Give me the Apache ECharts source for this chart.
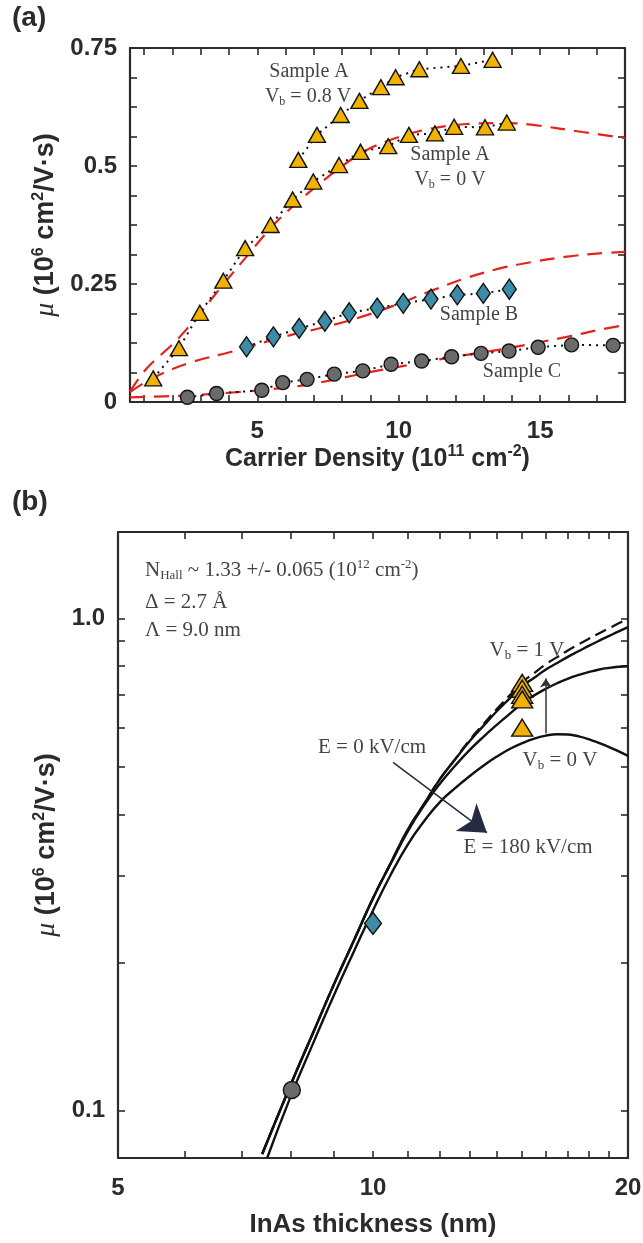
<!DOCTYPE html>
<html>
<head>
<meta charset="utf-8">
<script src="https://cdn.jsdelivr.net/npm/echarts@6/dist/echarts.min.js"></script>
<style>
html, body { margin: 0; padding: 0; background: #fff; }
#main { width: 643px; height: 1243px; }
</style>
</head>
<body>
<div id="main"></div>
<script>
// ---- panel (a): mobility vs carrier density ----
var aXTicks = [1, 2, 3, 4, 5, 6, 7, 8, 9, 10, 11, 12, 13, 14, 15, 16, 17];
var aXLabels = [5, 10, 15];
var aYTicks = [0.0625, 0.125, 0.1875, 0.25, 0.3125, 0.375, 0.4375, 0.5, 0.5625, 0.625, 0.6875];
var aYLabels = [0, 0.25, 0.5, 0.75];

var sampleA08 = [[6.45, 0.513], [7.11, 0.566], [7.95, 0.608], [8.61, 0.638], [9.37, 0.667],
  [9.89, 0.688], [10.73, 0.705], [12.20, 0.712], [13.32, 0.725]];
var sampleA0 = [[1.32, 0.050], [2.23, 0.114], [2.97, 0.189], [3.80, 0.257], [4.57, 0.326],
  [5.47, 0.375], [6.25, 0.429], [6.98, 0.467], [7.89, 0.502], [8.65, 0.530], [9.63, 0.542],
  [10.36, 0.566], [11.28, 0.569], [11.96, 0.583], [13.05, 0.582], [13.82, 0.592]];
var sampleB = [[4.62, 0.117], [5.57, 0.138], [6.48, 0.156], [7.39, 0.171], [8.25, 0.189],
  [9.24, 0.199], [10.16, 0.209], [11.14, 0.218], [12.07, 0.227], [12.99, 0.230], [13.91, 0.239]];
var sampleC = [[2.53, 0.010], [3.56, 0.018], [5.16, 0.025], [5.90, 0.041], [6.76, 0.048],
  [7.72, 0.059], [8.73, 0.066], [9.73, 0.080], [10.81, 0.087], [11.87, 0.096], [12.91, 0.103],
  [13.90, 0.108], [14.93, 0.116], [16.11, 0.121], [17.58, 0.120]];

var fitA = [[0.5, 0.022], [1.09, 0.071], [2.15, 0.131], [2.97, 0.188], [3.92, 0.258], [4.62, 0.308],
  [5.51, 0.371], [6.51, 0.428], [7.92, 0.496], [8.87, 0.534], [10.04, 0.562], [11.21, 0.580],
  [12.41, 0.589], [13.83, 0.591], [14.75, 0.587], [16.5, 0.572], [18, 0.559]];
var fitB = [[0.5, 0.021], [1.31, 0.051], [2.55, 0.082], [4.18, 0.108], [5.94, 0.138], [7.6, 0.162],
  [8.87, 0.184], [10.04, 0.209], [11.21, 0.237], [12.4, 0.263], [13.58, 0.283], [14.75, 0.297],
  [15.94, 0.308], [17.1, 0.315], [18, 0.318]];
var fitC = [[0.5, 0.010], [2.5, 0.014], [4.5, 0.022], [6.51, 0.034], [7.68, 0.047], [8.87, 0.062],
  [10.04, 0.075], [11.2, 0.088], [12.4, 0.100], [13.58, 0.111], [14.75, 0.124], [15.94, 0.138],
  [17.1, 0.153], [18, 0.163]];

// ---- panel (b): mobility vs InAs thickness ----
var bXTicks = [6, 7, 8, 9, 10, 11, 12, 13, 14, 15, 16, 17, 18, 19];
var bXLabels = [5, 10, 20];
var bYTicks = [0.1, 0.2, 0.3, 0.4, 0.5, 0.6, 0.7, 0.8, 0.9, 1.0];
var bYLabels = [0.1, 1.0];

var curveE0 = [[7.4, 0.0815], [8.0, 0.113], [8.5, 0.144], [9.0, 0.181], [9.5, 0.222], [10.0, 0.27],
  [10.5, 0.319], [11.0, 0.373], [11.5, 0.421], [12.0, 0.472], [12.5, 0.517], [13.0, 0.563],
  [13.5, 0.605], [14.0, 0.648], [14.5, 0.688], [15.0, 0.729], [15.5, 0.758], [16.0, 0.788],
  [16.5, 0.812], [17.0, 0.837], [17.5, 0.859], [18.0, 0.881], [18.5, 0.902], [19.0, 0.922],
  [19.5, 0.942], [20.0, 0.961]];
var curveDash = [[7.4, 0.0815], [8.0, 0.113], [8.5, 0.144], [9.0, 0.181], [9.5, 0.222], [10.0, 0.27],
  [10.5, 0.319], [11.0, 0.373], [11.5, 0.421], [12.0, 0.472], [12.5, 0.518], [13.0, 0.566],
  [13.5, 0.61], [14.0, 0.655], [14.5, 0.698], [15.0, 0.742], [15.5, 0.775], [16.0, 0.808],
  [16.5, 0.835], [17.0, 0.862], [17.5, 0.887], [18.0, 0.911], [18.5, 0.934], [19.0, 0.956],
  [19.5, 0.978], [20.0, 0.998]];
var curveMid = [[7.4, 0.0815], [8.0, 0.113], [8.5, 0.144], [9.0, 0.181], [9.5, 0.222], [10.0, 0.27],
  [10.5, 0.318], [11.0, 0.37], [11.5, 0.418], [12.0, 0.462], [12.5, 0.502], [13.0, 0.54],
  [13.5, 0.575], [14.0, 0.608], [14.5, 0.64], [15.0, 0.672], [15.5, 0.698], [16.0, 0.72],
  [16.5, 0.739], [17.0, 0.755], [17.5, 0.768], [18.0, 0.779], [18.5, 0.788], [19.0, 0.794],
  [19.5, 0.798], [20.0, 0.80]];
var curveE180 = [[7.5, 0.080], [8.0, 0.107], [8.5, 0.137], [9.0, 0.172], [9.5, 0.211], [10.0, 0.255],
  [10.5, 0.302], [11.0, 0.348], [11.5, 0.388], [12.0, 0.424], [12.5, 0.452], [13.0, 0.478],
  [13.5, 0.502], [14.0, 0.524], [14.5, 0.543], [15.0, 0.558], [15.5, 0.570], [16.0, 0.578],
  [16.5, 0.582], [17.0, 0.581], [17.5, 0.576], [18.0, 0.568], [18.5, 0.558], [19.0, 0.548],
  [19.5, 0.537], [20.0, 0.526]];

var ptsVb = [[15, 0.74], [15, 0.72], [15, 0.70], [15, 0.685]];
var ptsVb0 = [[15, 0.60]];
var ptsB = [[10, 0.24]];
var ptsC = [[8.02, 0.11]];

var sans = 'Liberation Sans';
var serif = 'Liberation Serif';
var ink = '#2b2b2b';
var noteInk = '#444';
var yellow = '#F2B200';
var teal = '#3D8BA6';
var grey = '#6A6A6A';
var red = '#E3221B';

var chart = echarts.init(document.getElementById('main'), null, { renderer: 'canvas' });

function frameAxis(o) {
  var ax = {
    gridIndex: o.grid,
    type: o.type,
    position: o.position,
    min: o.min,
    max: o.max,
    axisLine: { show: true, onZero: false, lineStyle: { color: ink, width: 2.2 } },
    axisTick: { show: true, inside: true, length: 7, customValues: o.ticks, lineStyle: { color: ink, width: 1.6 } },
    axisLabel: o.labels ? {
      customValues: o.labels, margin: o.margin, fontFamily: sans, fontWeight: 'bold',
      fontSize: 24, color: ink, formatter: o.formatter
    } : { show: false },
    splitLine: { show: false },
    minorTick: { show: false }
  };
  if (o.name) {
    ax.name = o.name;
    ax.nameLocation = 'middle';
    ax.nameGap = o.nameGap;
    ax.nameRotate = o.nameRotate || 0;
    ax.nameTextStyle = {
      fontFamily: sans, fontWeight: 'bold', fontSize: o.nameSize, color: ink,
      rich: {
        mu: { fontFamily: serif, fontStyle: 'italic', fontWeight: 'normal', fontSize: o.nameSize + 1, color: ink },
        sup: { fontFamily: sans, fontWeight: 'bold', fontSize: 16, color: ink, padding: [0, 0, 14, 0] }
      }
    };
  }
  return ax;
}

function note(x, y, text, size, align) {
  return {
    type: 'text', x: x, y: y, silent: true, z: 50,
    style: {
      text: text, fill: noteInk, fontFamily: serif, fontSize: size,
      align: align || 'center', verticalAlign: 'middle',
      rich: {
        sub: { fontFamily: serif, fontSize: Math.round(size * 0.62), fill: noteInk, padding: [Math.round(size * 0.5), 0, 0, 0] },
        sup: { fontFamily: serif, fontSize: Math.round(size * 0.62), fill: noteInk, padding: [0, 0, Math.round(size * 0.5), 0] }
      }
    }
  };
}

function marks(name, data, xi, symbol, size, color, dotted) {
  return {
    name: name, type: 'line', xAxisIndex: xi, yAxisIndex: xi,
    data: data, symbol: symbol, symbolSize: size, showAllSymbol: true,
    itemStyle: { color: color, borderColor: '#111', borderWidth: 1.4 },
    lineStyle: dotted ? { type: [2, 5], color: '#111', width: 2 } : { width: 0, opacity: 0 },
    z: 5, silent: true
  };
}

function curve(name, data, xi, color, type, smooth, width) {
  return {
    name: name, type: 'line', xAxisIndex: xi, yAxisIndex: xi,
    data: data, smooth: smooth, symbol: 'none',
    lineStyle: { color: color, width: width, type: type },
    z: 2, silent: true
  };
}

var e180 = curve('E = 180 kV/cm', curveE180, 2, '#111', 'solid', 0.5, 2.4);
e180.markLine = {
  silent: true, symbol: ['none', 'arrow'], symbolSize: 26,
  label: { show: false },
  lineStyle: { type: 'solid', color: '#262A40', width: 1.5 },
  data: [[{ coord: [10.56, 0.51] }, { coord: [13.63, 0.367] }]]
};
var mid = curve('mid', curveMid, 2, '#111', 'solid', 0.5, 2.4);
mid.markLine = {
  silent: true, symbol: ['none', 'arrow'], symbolSize: 9,
  label: { show: false },
  lineStyle: { type: 'solid', color: '#333', width: 1.5 },
  data: [[{ coord: [16.0, 0.584] }, { coord: [16.0, 0.755] }]]
};

var option = {
  animation: false,
  backgroundColor: '#fff',
  grid: [
    { left: 130, top: 48, width: 495, height: 354, outerBoundsMode: 'none', containLabel: false },
    { left: 118, top: 532, width: 510, height: 626, outerBoundsMode: 'none', containLabel: false }
  ],
  xAxis: [
    frameAxis({ grid: 0, type: 'value', position: 'bottom', min: 0.5, max: 18, ticks: aXTicks,
      labels: aXLabels, margin: 17, name: 'Carrier Density (10{sup|11} cm{sup|-2})', nameGap: 40, nameSize: 25 }),
    frameAxis({ grid: 0, type: 'value', position: 'top', min: 0.5, max: 18, ticks: aXTicks }),
    frameAxis({ grid: 1, type: 'log', position: 'bottom', min: 5, max: 20, ticks: bXTicks,
      labels: bXLabels, margin: 18, name: 'InAs thickness (nm)', nameGap: 54, nameSize: 26 }),
    frameAxis({ grid: 1, type: 'log', position: 'top', min: 5, max: 20, ticks: bXTicks })
  ],
  yAxis: [
    frameAxis({ grid: 0, type: 'value', position: 'left', min: 0, max: 0.75, ticks: aYTicks,
      labels: aYLabels, margin: 13, name: '{mu|μ} (10{sup|6} cm{sup|2}/V·s)', nameGap: 64, nameRotate: 90, nameSize: 27 }),
    frameAxis({ grid: 0, type: 'value', position: 'right', min: 0, max: 0.75, ticks: aYTicks }),
    frameAxis({ grid: 1, type: 'log', position: 'left', min: 0.08, max: 1.5, ticks: bYTicks,
      labels: bYLabels, margin: 13, formatter: function (v) { return v >= 1 ? Number(v).toFixed(1) : String(v); },
      name: '{mu|μ} (10{sup|6} cm{sup|2}/V·s)', nameGap: 52, nameRotate: 90, nameSize: 27 }),
    frameAxis({ grid: 1, type: 'log', position: 'right', min: 0.08, max: 1.5, ticks: bYTicks })
  ],
  series: [
    curve('fit A', fitA, 0, red, [15, 9], 0.35, 2.2),
    curve('fit B', fitB, 0, red, [15, 9], 0.35, 2.2),
    curve('fit C', fitC, 0, red, [15, 9], 0.35, 2.2),
    marks('Sample A, Vb = 0.8 V', sampleA08, 0, 'triangle', [17, 15], yellow, true),
    marks('Sample A, Vb = 0 V', sampleA0, 0, 'triangle', [17, 15], yellow, true),
    marks('Sample B', sampleB, 0, 'diamond', [14, 20], teal, true),
    marks('Sample C', sampleC, 0, 'circle', 14, grey, true),

    curve('dashed', curveDash, 2, '#111', [12, 6], 0.5, 2.2),
    curve('E = 0 kV/cm', curveE0, 2, '#111', 'solid', 0.5, 2.4),
    mid,
    e180,
    marks('Vb = 1 V', ptsVb, 2, 'triangle', [21, 17], yellow, false),
    marks('Vb = 0 V', ptsVb0, 2, 'triangle', [21, 17], yellow, false),
    marks('B', ptsB, 2, 'diamond', [17, 22], teal, false),
    marks('C', ptsC, 2, 'circle', 17, grey, false)
  ],
  graphic: [
    { type: 'text', x: 12, y: 4, silent: true,
      style: { text: '(a)', fill: ink, fontFamily: sans, fontWeight: 'bold', fontSize: 28 } },
    { type: 'text', x: 12, y: 488, silent: true,
      style: { text: '(b)', fill: ink, fontFamily: sans, fontWeight: 'bold', fontSize: 28 } },
    note(309, 72, 'Sample A', 20),
    note(308, 97, 'V{sub|b} = 0.8 V', 20),
    note(450, 155, 'Sample A', 20),
    note(450, 180, 'V{sub|b} = 0 V', 20),
    note(479, 315, 'Sample B', 20),
    note(522, 372, 'Sample C', 20),
    note(145, 570, 'N{sub|Hall} ~ 1.33 +/- 0.065 (10{sup|12} cm{sup|-2})', 21, 'left'),
    note(145, 602, 'Δ = 2.7 Å', 21, 'left'),
    note(145, 630, 'Λ = 9.0 nm', 21, 'left'),
    note(527, 650, 'V{sub|b} = 1 V', 21),
    note(560, 760, 'V{sub|b} = 0 V', 21),
    note(372, 747, 'E = 0 kV/cm', 21),
    note(528, 847, 'E = 180 kV/cm', 21)
  ]
};

chart.setOption(option);
</script>
</body>
</html>
